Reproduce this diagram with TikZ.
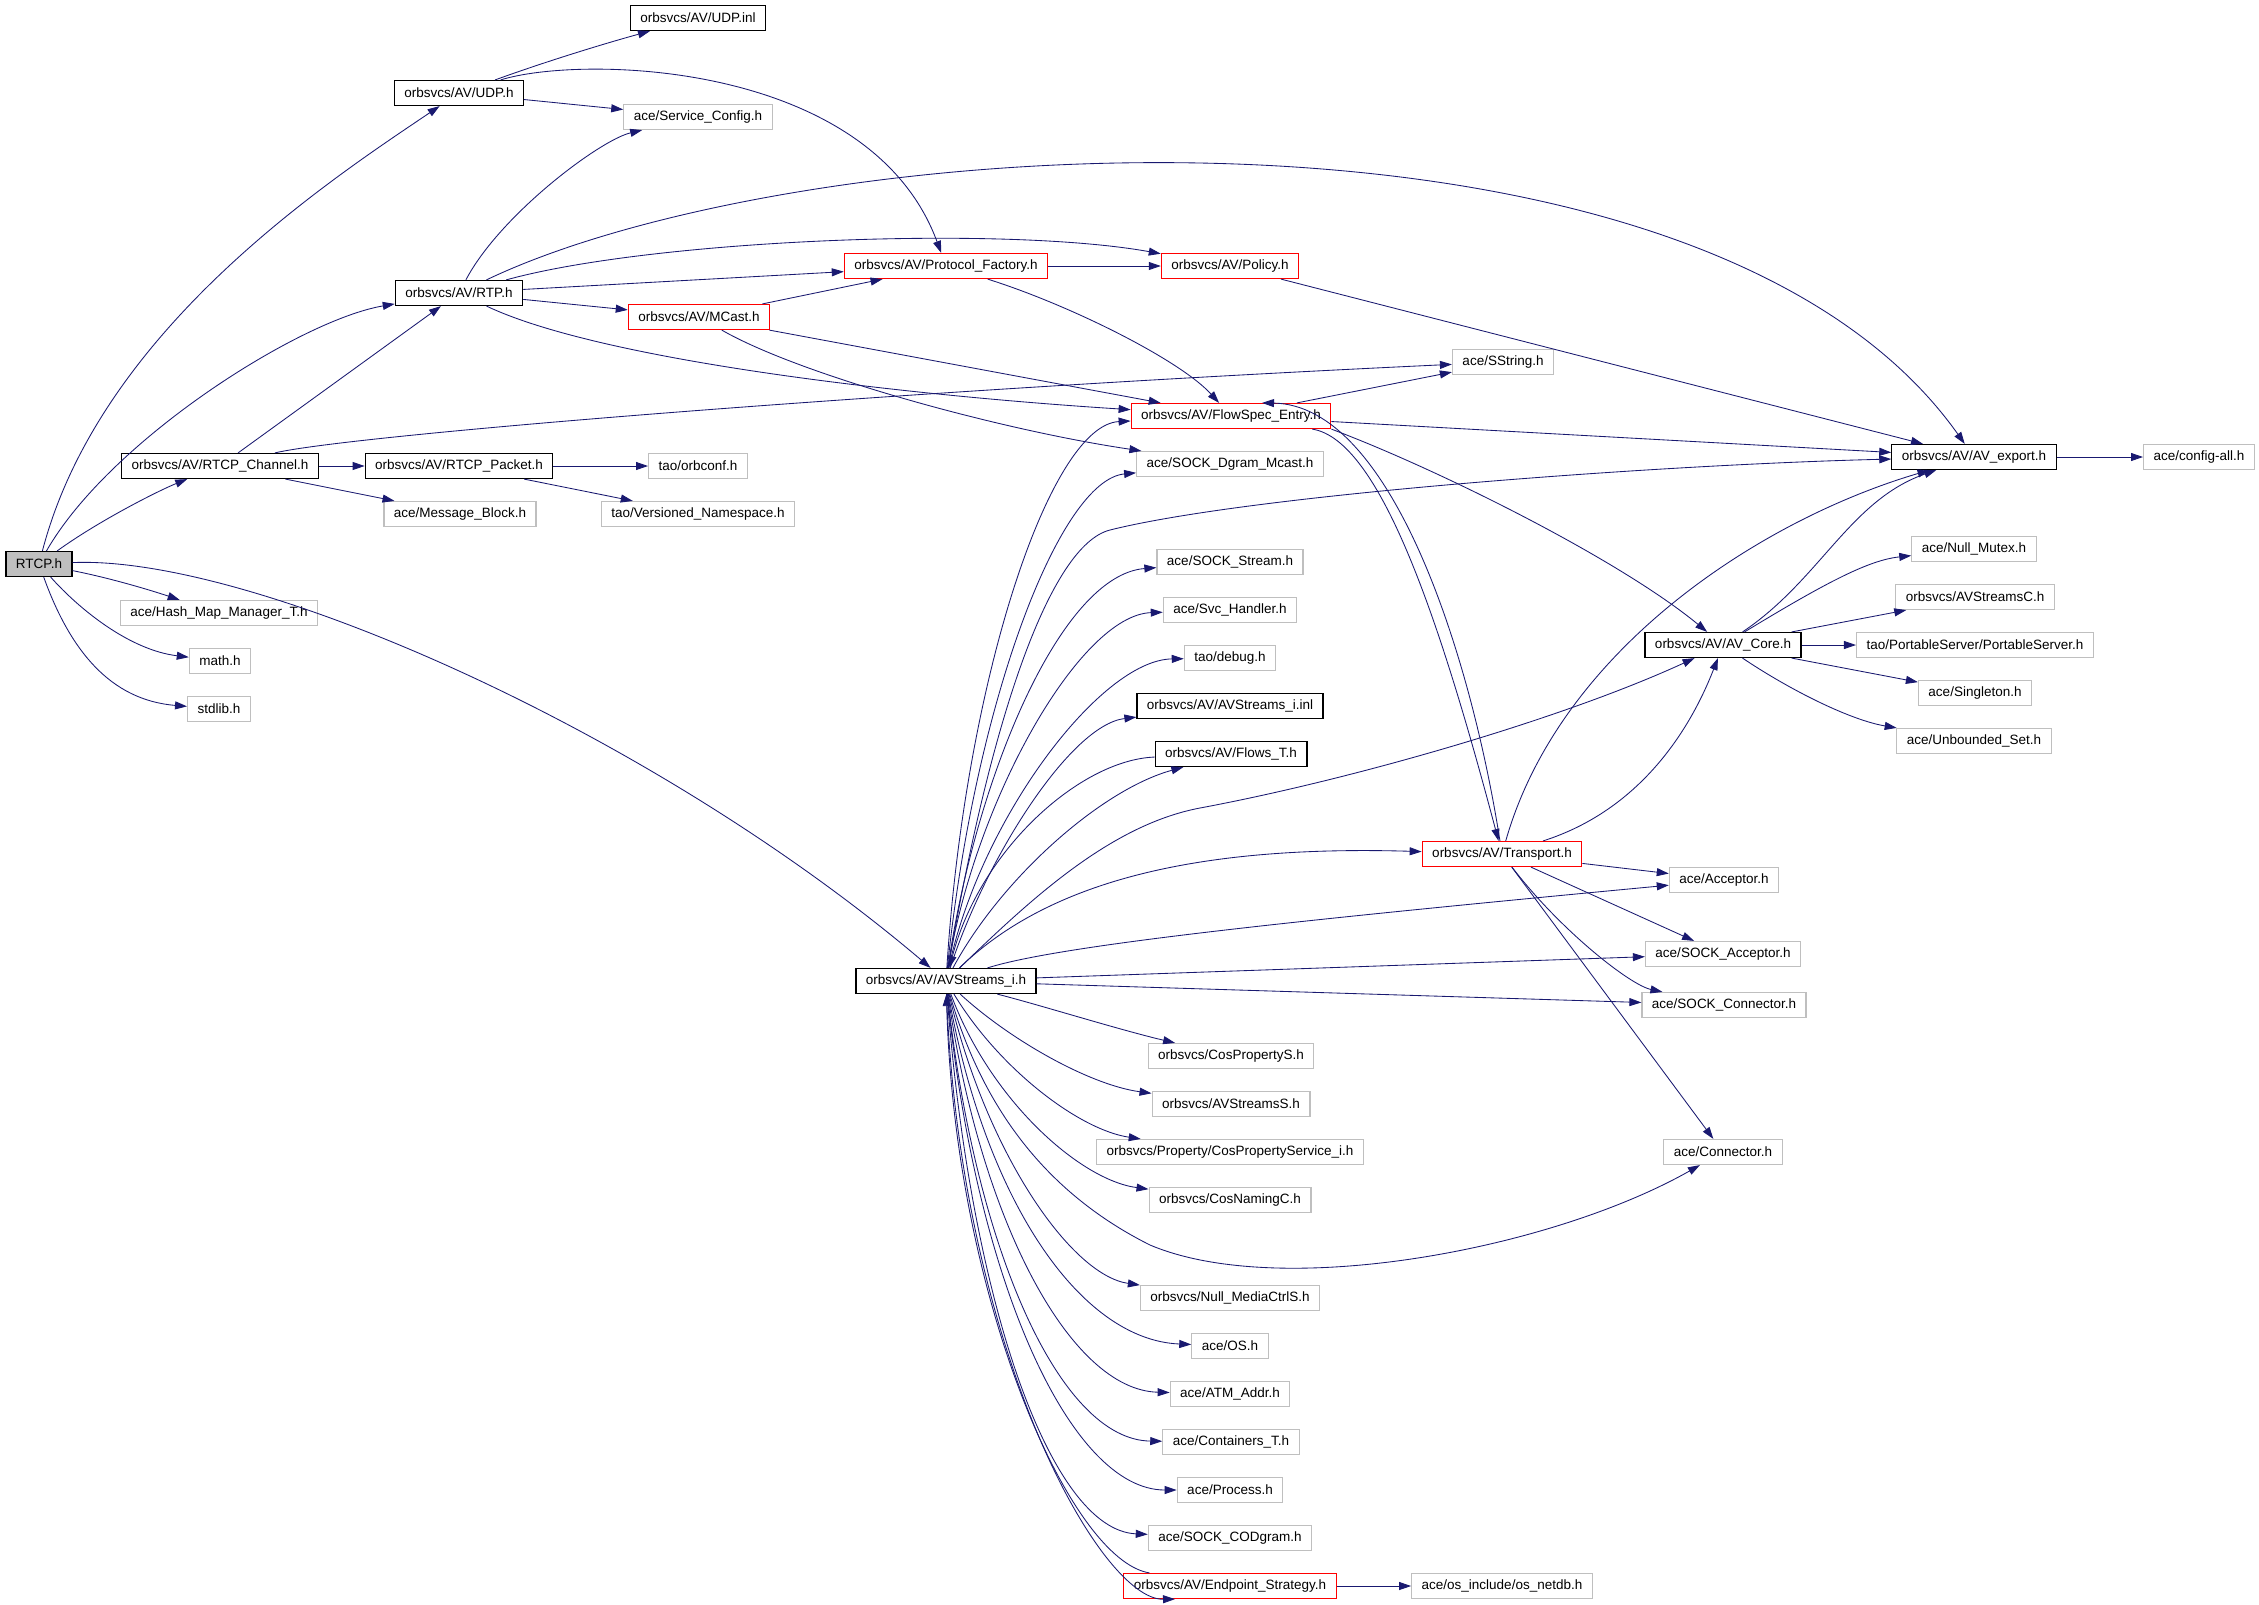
\documentclass[tikz,border=0pt]{standalone}
\usepackage{fontspec}
\setmainfont{Liberation Sans}
\usetikzlibrary{arrows.meta}
\definecolor{edgeblue}{HTML}{191970}
\definecolor{extgray}{HTML}{BFBFBF}

\begin{document}
\begin{tikzpicture}[x=1pt, y=-1pt,
    file/.style={rectangle, draw, line width=1.2pt, minimum height=25pt,
      inner xsep=10pt, inner ysep=0pt, font=\fontsize{13.5}{15}\selectfont},
    ext/.style={file, draw=extgray},
    trunc/.style={file, draw=red},
    root/.style={file, fill=extgray},
    dep/.style={->, draw=edgeblue, line width=0.85pt},
    >={Triangle[length=12pt,width=8pt]}]
    \useasboundingbox [fill=white] (0,0) rectangle (2259,1604);
    % left column
    \path (  39,  564) node [root] (rtcp) {RTCP.h};
    \path ( 220,  466) node [file] (chan) {orbsvcs/AV/RTCP\_Channel.h};
    \path ( 219,  613) node [ext] (hashmap) {ace/Hash\_Map\_Manager\_T.h};
    \path ( 220,  661) node [ext] (math) {math.h};
    \path ( 219,  709) node [ext] (stdlib) {stdlib.h};
    \path ( 459,   93) node [file] (udp) {orbsvcs/AV/UDP.h};
    \path ( 459,  293) node [file] (rtp) {orbsvcs/AV/RTP.h};
    \path ( 459,  466) node [file] (packet) {orbsvcs/AV/RTCP\_Packet.h};
    \path ( 460,  514) node [ext] (msgblk) {ace/Message\_Block.h};
    \path ( 698,   18) node [file] (udpinl) {orbsvcs/AV/UDP.inl};
    \path ( 698,  117) node [ext] (svccfg) {ace/Service\_Config.h};
    \path ( 699,  317) node [trunc] (mcast) {orbsvcs/AV/MCast.h};
    \path ( 698,  466) node [ext] (orbconf) {tao/orbconf.h};
    \path ( 698,  514) node [ext] (versns) {tao/Versioned\_Namespace.h};
    % middle
    \path ( 946,  266) node [trunc] (protfac) {orbsvcs/AV/Protocol\_Factory.h};
    \path ( 946,  981) node [file] (avi) {orbsvcs/AV/AVStreams\_i.h};
    \path (1230,  266) node [trunc] (policy) {orbsvcs/AV/Policy.h};
    \path (1231,  416) node [trunc] (flowspec) {orbsvcs/AV/FlowSpec\_Entry.h};
    \path (1230,  464) node [ext] (dgram) {ace/SOCK\_Dgram\_Mcast.h};
    \path (1230,  562) node [ext] (sockstream) {ace/SOCK\_Stream.h};
    \path (1230,  610) node [ext] (svchandler) {ace/Svc\_Handler.h};
    \path (1230,  658) node [ext] (debug) {tao/debug.h};
    \path (1230,  706) node [file] (avinl) {orbsvcs/AV/AVStreams\_i.inl};
    \path (1231,  754) node [file] (flows) {orbsvcs/AV/Flows\_T.h};
    \path (1231, 1056) node [ext] (cosprops) {orbsvcs/CosPropertyS.h};
    \path (1231, 1104) node [ext] (avss) {orbsvcs/AVStreamsS.h};
    \path (1230, 1152) node [ext] (cosservice) {orbsvcs/Property/CosPropertyService\_i.h};
    \path (1230, 1200) node [ext] (cosnaming) {orbsvcs/CosNamingC.h};
    \path (1230, 1298) node [ext] (nullmedia) {orbsvcs/Null\_MediaCtrlS.h};
    \path (1230, 1346) node [ext] (os) {ace/OS.h};
    \path (1230, 1394) node [ext] (atm) {ace/ATM\_Addr.h};
    \path (1231, 1442) node [ext] (containers) {ace/Containers\_T.h};
    \path (1230, 1490) node [ext] (process) {ace/Process.h};
    \path (1230, 1538) node [ext] (codgram) {ace/SOCK\_CODgram.h};
    \path (1230, 1586) node [trunc] (endpoint) {orbsvcs/AV/Endpoint\_Strategy.h};
    \path (1503,  362) node [ext] (sstring) {ace/SString.h};
    \path (1502,  854) node [trunc] (transport) {orbsvcs/AV/Transport.h};
    \path (1502, 1586) node [ext] (netdb) {ace/os\_include/os\_netdb.h};
    % right
    \path (1723,  645) node [file] (avcore) {orbsvcs/AV/AV\_Core.h};
    \path (1724,  880) node [ext] (acceptor) {ace/Acceptor.h};
    \path (1723,  954) node [ext] (sockacc) {ace/SOCK\_Acceptor.h};
    \path (1724, 1005) node [ext] (sockconn) {ace/SOCK\_Connector.h};
    \path (1723, 1152) node [ext] (connector) {ace/Connector.h};
    \path (1974,  457) node [file] (avexport) {orbsvcs/AV/AV\_export.h};
    \path (1974,  549) node [ext] (nullmutex) {ace/Null\_Mutex.h};
    \path (1975,  597) node [ext] (avsc) {orbsvcs/AVStreamsC.h};
    \path (1975,  645) node [ext] (portable) {tao/PortableServer/PortableServer.h};
    \path (1975,  693) node [ext] (singleton) {ace/Singleton.h};
    \path (1974,  741) node [ext] (unbounded) {ace/Unbounded\_Set.h};
    \path (2199,  457) node [ext] (configall) {ace/config-all.h};

    % RTCP.h
    \draw [dep] (rtcp) .. controls (100,330) and (330,180) .. (udp);
    \draw [dep] (rtcp) .. controls (110,440) and (300,320) .. (rtp);
    \draw [dep] (rtcp) .. controls (100,520) and (160,490) .. (chan);
    \draw [dep] (rtcp) .. controls (110,578) and (150,590) .. (hashmap);
    \draw [dep] (rtcp) .. controls (80,610) and (130,650) .. (math);
    \draw [dep] (rtcp) .. controls (70,650) and (110,700) .. (stdlib);
    \draw [dep] (rtcp) .. controls (250,555) and (650,730) .. (avi);
    % UDP.h, RTP.h, MCast.h
    \draw [dep] (udp) .. controls (550,60) and (610,42) .. (udpinl);
    \draw [dep] (udp) -- (svccfg);
    \draw [dep] (udp) .. controls (580,55) and (870,60) .. (protfac);
    \draw [dep] (rtp) .. controls (500,215) and (600,140) .. (svccfg);
    \draw [dep] (rtp) .. controls (800,130) and (1700,70) .. (avexport);
    \draw [dep] (rtp) .. controls (650,240) and (1000,225) .. (policy);
    \draw [dep] (rtp) -- (protfac);
    \draw [dep] (rtp) -- (mcast);
    \draw [dep] (rtp) .. controls (600,360) and (900,395) .. (flowspec);
    \draw [dep] (mcast) -- (protfac);
    \draw [dep] (mcast) -- (flowspec);
    \draw [dep] (mcast) .. controls (800,375) and (1000,430) .. (dgram);
    % RTCP_Channel.h, RTCP_Packet.h
    \draw [dep] (chan) -- (rtp);
    \draw [dep] (chan) .. controls (350,435) and (900,390) .. (sstring);
    \draw [dep] (chan) -- (packet);
    \draw [dep] (chan) -- (msgblk);
    \draw [dep] (packet) -- (orbconf);
    \draw [dep] (packet) -- (versns);
    % Protocol_Factory.h, Policy.h, FlowSpec_Entry.h
    \draw [dep] (protfac) -- (policy);
    \draw [dep] (protfac) .. controls (1070,305) and (1180,360) .. (flowspec);
    \draw [dep] (policy) -- (avexport);
    \draw [dep] (flowspec) -- (sstring);
    \draw [dep] (flowspec) -- (avexport);
    \draw [dep] (flowspec) .. controls (1380,440) and (1440,620) .. (transport);
    \draw [dep] (flowspec.south east) .. controls (1440,470) and (1620,560) .. (avcore);
    % Transport.h
    \draw [dep] (transport) .. controls (1470,650) and (1390,405) .. ([xshift=31pt]flowspec.north);
    \draw [dep] (transport) .. controls (1560,650) and (1760,520) .. (avexport);
    \draw [dep] (transport) .. controls (1640,810) and (1690,730) .. (avcore);
    \draw [dep] (transport) -- (acceptor);
    \draw [dep] (transport) -- (sockacc);
    \draw [dep] (transport) .. controls (1560,930) and (1630,985) .. (sockconn);
    \draw [dep] (transport) -- (connector);
    % AV_Core.h, AV_export.h
    \draw [dep] (avcore) .. controls (1820,580) and (1850,500) .. (avexport);
    \draw [dep] (avcore) .. controls (1830,580) and (1870,560) .. (nullmutex);
    \draw [dep] (avcore) -- (avsc);
    \draw [dep] (avcore) -- (portable);
    \draw [dep] (avcore) -- (singleton);
    \draw [dep] (avcore) .. controls (1790,690) and (1850,720) .. (unbounded);
    \draw [dep] (avexport) -- (configall);
    % AVStreams_i.h, upwards
    \draw [dep] (avi) .. controls (965,680) and (1050,425) .. (flowspec);
    \draw [dep] (avi) .. controls (975,700) and (1060,480) .. (dgram);
    \draw [dep] (avi) .. controls (990,720) and (1050,545) .. (1110,530)
        .. controls (1250,495) and (1650,465) .. (avexport);
    \draw [dep] (avi) .. controls (975,780) and (1060,575) .. (sockstream);
    \draw [dep] (avi) .. controls (975,800) and (1080,615) .. (svchandler);
    \draw [dep] (avi) .. controls (980,820) and (1100,660) .. (debug);
    \draw [dep] (avi) .. controls (985,860) and (1070,725) .. (avinl);
    \draw [dep] (avi) .. controls (1000,880) and (1100,790) .. (flows);
    \draw [dep] (flows) .. controls (1080,760) and (980,850) .. (avi);
    \draw [dep] (avi) .. controls (1030,900) and (1110,825) .. (1200,808)
        .. controls (1350,780) and (1560,720) .. (avcore);
    \draw [dep] (avi) .. controls (1050,880) and (1200,845) .. (transport);
    \draw [dep] (avi) .. controls (1060,945) and (1300,920) .. (acceptor);
    \draw [dep] (avi) -- (sockacc);
    \draw [dep] (avi) -- (sockconn);
    % AVStreams_i.h, downwards
    \draw [dep] (avi) .. controls (1040,1005) and (1120,1030) .. (cosprops);
    \draw [dep] (avi) .. controls (1010,1040) and (1090,1085) .. (avss);
    \draw [dep] (avi) .. controls (1000,1070) and (1080,1130) .. (cosservice);
    \draw [dep] (avi) .. controls (990,1100) and (1080,1180) .. (cosnaming);
    \draw [dep] (avi) .. controls (980,1100) and (1040,1190) .. (1150,1245)
        .. controls (1280,1300) and (1550,1250) .. (connector);
    \draw [dep] (avi) .. controls (985,1150) and (1070,1275) .. (nullmedia);
    \draw [dep] (avi) .. controls (985,1200) and (1080,1340) .. (os);
    \draw [dep] (avi) .. controls (980,1220) and (1070,1390) .. (atm);
    \draw [dep] (avi) .. controls (975,1250) and (1060,1440) .. (containers);
    \draw [dep] (avi) .. controls (975,1280) and (1070,1490) .. (process);
    \draw [dep] (avi) .. controls (970,1300) and (1050,1530) .. (codgram);
    \draw [dep] (avi) .. controls (960,1350) and (1100,1600) .. ([xshift=-55pt]endpoint.south);
    \draw [dep] (endpoint) .. controls (1070,1560) and (955,1300) .. (avi);
    \draw [dep] (endpoint) -- (netdb);
\end{tikzpicture}
\end{document}
